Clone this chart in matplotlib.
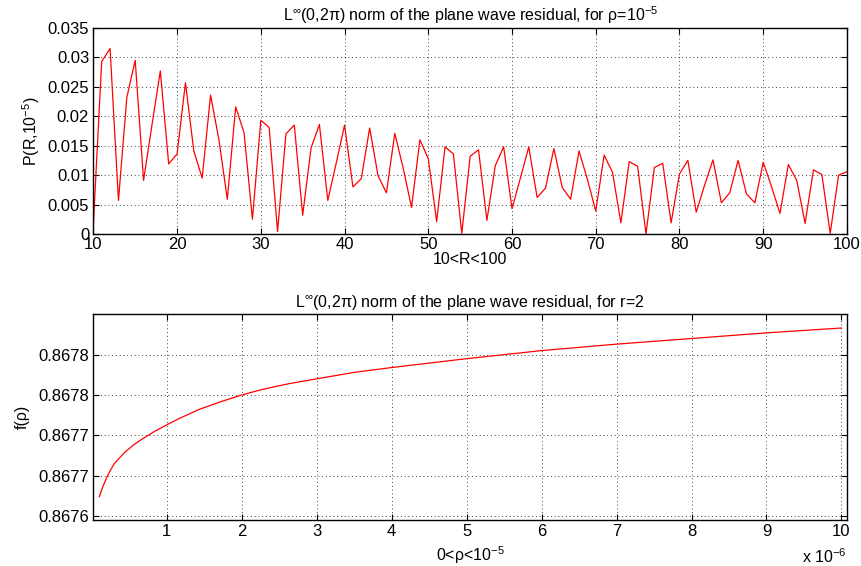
import numpy as np
import matplotlib
matplotlib.use("Agg")
import matplotlib.pyplot as plt
from matplotlib.ticker import FuncFormatter

plt.rcParams['font.family'] = ['Liberation Sans', 'DejaVu Sans']
plt.rcParams['mathtext.fontset'] = 'custom'
plt.rcParams['mathtext.rm'] = 'Liberation Sans'
plt.rcParams['mathtext.it'] = 'Liberation Sans'

# residual norm P(R, 1e-5) for R = 10..100
R = np.arange(10, 101)
P = [0.0015, 0.0293, 0.0315, 0.0057, 0.0232, 0.0295, 0.0091, 0.0185, 0.0277, 0.0119,
     0.0136, 0.0257, 0.0141, 0.0095, 0.0236, 0.0160, 0.0059, 0.0216, 0.0172, 0.0025,
     0.0193, 0.0181, 0.0004, 0.0170, 0.0185, 0.0032, 0.0146, 0.0186, 0.0057, 0.0120,
     0.0185, 0.0080, 0.0094, 0.0180, 0.0099, 0.0070, 0.0171, 0.0112, 0.0045, 0.0160,
     0.0128, 0.0021, 0.0148, 0.0136, 0.0001, 0.0132, 0.0143, 0.0023, 0.0116, 0.0148,
     0.0043, 0.0095, 0.0148, 0.0062, 0.0078, 0.0145, 0.0079, 0.0059, 0.0141, 0.0093,
     0.0039, 0.0134, 0.0105, 0.0019, 0.0123, 0.0115, 0.0000, 0.0113, 0.0120, 0.0019,
     0.0102, 0.0125, 0.0037, 0.0083, 0.0126, 0.0053, 0.0070, 0.0125, 0.0068, 0.0053,
     0.0122, 0.0080, 0.0035, 0.0118, 0.0091, 0.0018, 0.0109, 0.0101, 0.0001, 0.0100,
     0.0106]

# f(rho) for r = 2
rho = np.array([0.10, 0.15, 0.20, 0.25, 0.30, 0.44, 0.57, 0.70, 0.84, 1.00,
                1.17, 1.43, 1.70, 2.00, 2.28, 2.63, 3.00, 3.50, 4.00, 5.00,
                6.00, 7.00, 8.00, 9.00, 10.0]) * 1e-6
f = [0.867624, 0.867637, 0.867648, 0.867657, 0.867665, 0.867679, 0.867689,
     0.867697, 0.867705, 0.867713, 0.867721, 0.867732, 0.867741, 0.867750,
     0.867757, 0.867764, 0.867770, 0.867778, 0.867784, 0.867795, 0.867805,
     0.867813, 0.867820, 0.867827, 0.867833]

f_ticks = [0.86760, 0.86765, 0.86770, 0.86775, 0.86780]
f_ticklabels = ['0.8676', '0.8677', '0.8677', '0.8678', '0.8678']
rho_ticks = [1, 2, 3, 4, 5, 6, 7, 8, 9, 10]

fs = 12
lfs = 11.5
fig = plt.figure(figsize=(8.61, 5.66), dpi=100)


def style(ax):
    ax.grid(True, color='black', linestyle=(0, (1, 3.5)), linewidth=0.6)
    ax.tick_params(direction='in', top=True, right=True, length=4,
                   width=0.8, labelsize=fs, pad=3)
    for s in ax.spines.values():
        s.set_linewidth(1.0)


ax1 = fig.add_axes([0.1084, 0.5866, 0.8753, 0.3640])
ax1.plot(R, P, color='red', linewidth=0.9)
ax1.set_xlim(10, 100)
ax1.set_ylim(0, 0.035)
ax1.set_xticks(np.arange(10, 101, 10))
ax1.set_yticks(np.arange(0, 0.0351, 0.005))
ax1.yaxis.set_major_formatter(FuncFormatter(lambda v, p: '%g' % round(v, 4)))
style(ax1)
ax1.tick_params(axis='x', pad=2)
ax1.set_title(r'L$^{\infty}$(0,2π) norm of the plane wave residual, for ρ=10$^{-5}$',
              fontsize=lfs, pad=5)
ax1.set_xlabel('10<R<100', fontsize=lfs, labelpad=0)
ax1.set_ylabel(r'P(R,10$^{-5}$)', fontsize=lfs, labelpad=4)

ax2 = fig.add_axes([0.1084, 0.0813, 0.8750, 0.3634])
ax2.plot(rho / 1e-6, f, color='red', linewidth=0.9)
ax2.set_xlim(0.02, 10.07)
ax2.set_ylim(0.867595, 0.86785)
ax2.set_xticks(rho_ticks)
ax2.set_yticks(f_ticks)
ax2.set_yticklabels(f_ticklabels)
style(ax2)
ax2.set_title(r'L$^{\infty}$(0,2π) norm of the plane wave residual, for r=2',
              fontsize=lfs, pad=5)
ax2.set_xlabel(r'0<ρ<10$^{-5}$', fontsize=lfs, labelpad=4)
ax2.set_ylabel('f(ρ)', fontsize=lfs, labelpad=6)
ax2.text(1.0, -0.135, r'x 10$^{-6}$', transform=ax2.transAxes, ha='right',
         va='top', fontsize=lfs)

fig.savefig('out.png', dpi=100)
